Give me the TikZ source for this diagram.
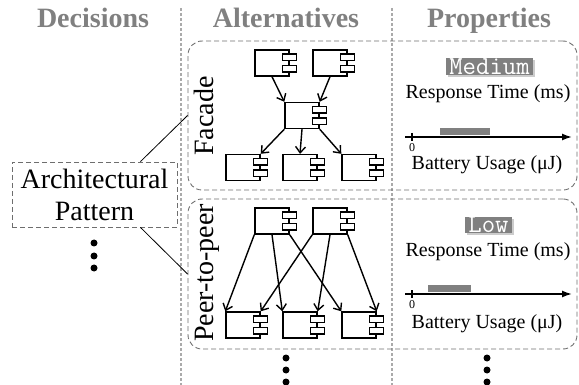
\documentclass[tikz,border=0pt]{standalone}
\usepackage{fontspec}
\setmainfont{Liberation Serif}
\usetikzlibrary{arrows.meta,shadows}

\definecolor{headgray}{RGB}{128,128,128}
\definecolor{sepgray}{RGB}{170,170,170}
\definecolor{boxgray}{RGB}{110,110,110}
\definecolor{bargray}{RGB}{128,128,128}

\tikzset{
  header/.style={font=\fontsize{28}{30}\selectfont\bfseries, text=headgray, anchor=base},
  sep/.style={sepgray, line width=1.3pt, dash pattern=on 3pt off 2pt},
  altbox/.style={draw=boxgray, line width=0.9pt, dash pattern=on 5pt off 3pt, rounded corners=14pt, inner sep=0},
  comp/.style={draw, line width=1.4pt, fill=white, minimum width=34pt, minimum height=26pt, inner sep=0},
  tabbox/.style={draw, line width=1.2pt, fill=white},
  dep/.style={line width=1.4pt, -{Straight Barb[length=6pt,width=10pt]}},
  axis/.style={line width=1.6pt, -{Latex[length=10pt,width=7pt]}},
  level/.style={fill=bargray, text=white, font=\fontsize{26}{26}\selectfont\ttfamily,
    inner xsep=3pt, inner ysep=0pt, copy shadow={shadow xshift=2pt, shadow yshift=-2pt, fill=gray!40, draw=none}},
  prop/.style={font=\fontsize{20}{22}\selectfont, anchor=base},
}

% component icon with its two tabs
\newcommand{\comp}[2]{%
  \node[comp] (#1) at (#2) {};
  \draw[tabbox] ([xshift=-7pt,yshift=2.5pt]#1.east) rectangle ++(14,-6.5);
  \draw[tabbox] ([xshift=-7pt,yshift=-2.5pt]#1.east) rectangle ++(14,6.5);
}

\begin{document}
\begin{tikzpicture}[x=1pt,y=-1pt]
\useasboundingbox (0,0) rectangle (579,385);

% column heads
\node[header] (hdec) at (93,28) {Decisions};
\node[header] (halt) at (286,28) {Alternatives};
\node[header] (hprop) at (489,28) {Properties};
\draw[sep] (181,8) -- (181,385);
\draw[sep] (392,8) -- (392,385);

% decision
\node[draw=boxgray, line width=0.9pt, dash pattern=on 5pt off 3pt, minimum width=165pt, minimum height=65pt,
  align=center, font=\fontsize{28}{32}\selectfont] (arch) at (94.5,194.5) {Architectural\\Pattern};
\fill (94,243) circle (3.5pt);
\fill (94,256) circle (3.5pt);
\fill (94,268) circle (3.5pt);

% alternatives
\node[altbox, minimum width=389pt, minimum height=149pt] (facadebox) at (382.5,115.5) {};
\node[altbox, minimum width=389pt, minimum height=150pt] (p2pbox) at (382.5,274) {};
\draw[line width=0.8pt] ([xshift=46pt]arch.north) -- (facadebox.west);
\draw[line width=0.8pt] ([xshift=46pt]arch.south) -- (p2pbox.west);

\node[rotate=90, anchor=base, font=\fontsize{28}{30}\selectfont] (lfacade) at (213,116) {Facade};
\node[rotate=90, anchor=base, font=\fontsize{28}{30}\selectfont] (lp2p) at (213,273) {Peer-to-peer};

% facade
\comp{ft1}{272,63}
\comp{ft2}{330,63}
\comp{fm}{302,115.5}
\comp{fb1}{243,167.5}
\comp{fb2}{300,167.5}
\comp{fb3}{359,167.5}
\draw[dep] (ft1.south) -- (fm.north west);
\draw[dep] (ft2.south) -- (fm.north east);
\draw[dep] (fm.south west) -- (fb1.north east);
\draw[dep] (fm.south) -- (fb2.north);
\draw[dep] (fm.south east) -- (fb3.north west);

% peer-to-peer
\comp{pt1}{272,221}
\comp{pt2}{330,221}
\comp{pb1}{243,325}
\comp{pb2}{300,325}
\comp{pb3}{359,325}
\draw[dep] (pt1.south west) -- (pb1.north west);
\draw[dep] (pt1.south) -- (pb2.north west);
\draw[dep] (pt1.south east) -- (pb3.north west);
\draw[dep] (pt2.south west) -- (pb1.north east);
\draw[dep] (pt2.south) -- (pb2.north east);
\draw[dep] (pt2.south east) -- (pb3.north east);

\fill (286,358) circle (3.5pt);
\fill (286,370) circle (3.5pt);
\fill (286,382) circle (3.5pt);

% properties, facade
\node[level] (rt1) at (489.5,66.5) {Medium};
\node[prop] (rtl1) at (488,99) {Response Time (ms)};
\coordinate (ax1) at (405,137);
\fill[bargray] (440,128) rectangle (490,135);
\draw[axis] (ax1) -- ++(167,0);
\draw[line width=1.2pt] (412,133) -- (412,141);
\node[font=\fontsize{12}{12}\selectfont] (z1) at (412,148) {0};
\node[prop] (bul1) at (487,170) {Battery Usage (μJ)};

% properties, peer-to-peer
\node[level] (rt2) at (488.5,225) {Low};
\node[prop] (rtl2) at (488,257) {Response Time (ms)};
\coordinate (ax2) at (405,294);
\fill[bargray] (428,285) rectangle (471,292);
\draw[axis] (ax2) -- ++(167,0);
\draw[line width=1.2pt] (412,290) -- (412,298);
\node[font=\fontsize{12}{12}\selectfont] (z2) at (412,305) {0};
\node[prop] (bul2) at (487,328) {Battery Usage (μJ)};

\fill (487,358) circle (3.5pt);
\fill (487,370) circle (3.5pt);
\fill (487,382) circle (3.5pt);
\end{tikzpicture}
\end{document}
